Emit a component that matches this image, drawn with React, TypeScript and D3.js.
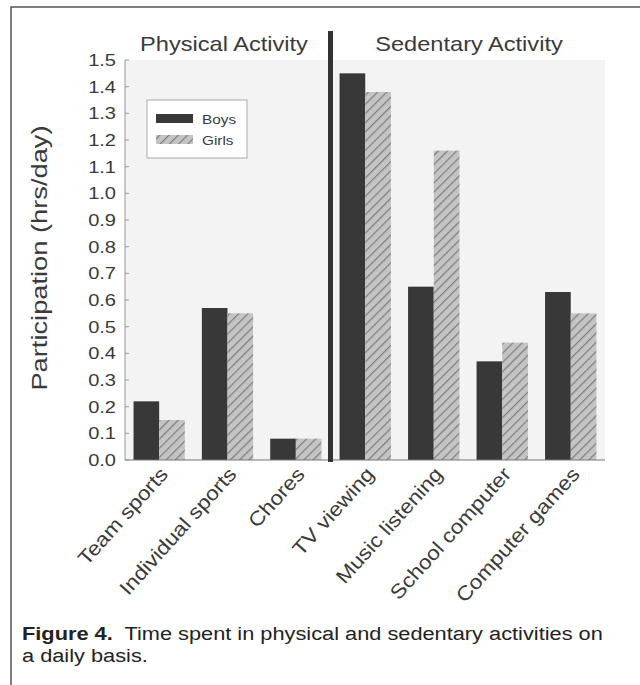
import React from "react";
import * as d3 from "d3";

const physicalCats = ["Team sports", "Individual sports", "Chores"];
const sedentaryCats = ["TV viewing", "Music listening", "School computer", "Computer games"];
const boysPhysical = [0.22, 0.57, 0.08];
const girlsPhysical = [0.15, 0.55, 0.08];
const boysSedentary = [1.45, 0.65, 0.37, 0.63];
const girlsSedentary = [1.38, 1.16, 0.44, 0.55];
const yTicks = [0, 0.1, 0.2, 0.3, 0.4, 0.5, 0.6, 0.7, 0.8, 0.9, 1.0, 1.1, 1.2, 1.3, 1.4, 1.5];
const seriesNames = ["Boys", "Girls"];

const W = 640, H = 685;
const font = "'Liberation Sans', Arial, Helvetica, sans-serif";
const textColor = "#3a3a3a";
const SX = 1.18;

function T({ x, y, rot = 0, sx = SX, size, anchor = "start", dy, weight, fill = textColor, children }: any) {
  return (
    <text
      transform={`translate(${x},${y}) rotate(${rot}) scale(${sx},1)`}
      textAnchor={anchor}
      dy={dy}
      fontSize={size}
      fontFamily={font}
      fontWeight={weight}
      fill={fill}
    >
      {children}
    </text>
  );
}

export default function App() {
  const y = d3.scaleLinear().domain([0, 1.5]).range([460, 60]);
  const xPhys = d3.scaleBand<string>().domain(physicalCats).range([125, 330]).paddingInner(0.25).paddingOuter(0.125);
  const xSed = d3.scaleBand<string>().domain(sedentaryCats).range([331, 605]).paddingInner(0.25).paddingOuter(0.125);

  const groups = [
    { cats: physicalCats, boys: boysPhysical, girls: girlsPhysical, x: xPhys },
    { cats: sedentaryCats, boys: boysSedentary, girls: girlsSedentary, x: xSed },
  ];

  return (
    <svg width={W} height={H} style={{ position: "absolute", left: 0, top: 0, background: "#fff" }}>
      <defs>
        <pattern id="hatch" patternUnits="userSpaceOnUse" width={6.5} height={6.5} patternTransform="rotate(45)">
          <rect width={6.5} height={6.5} fill="#c4c4c4" />
          <line x1={0.6} y1={0} x2={0.6} y2={6.5} stroke="#7d7d7d" strokeWidth={1.2} />
        </pattern>
      </defs>
      <rect x={11} y={7} width={W} height={H} fill="#fff" stroke="#555" strokeWidth={1.5} />
      {/* plot background */}
      <rect x={125} y={y(1.5)} width={605 - 125} height={y(0) - y(1.5)} fill="#f2f3f2" />
      {/* bars */}
      {groups.map((g, gi) =>
        g.cats.map((c, i) => {
          const bw = g.x.bandwidth() / 2;
          const x0 = g.x(c)!;
          return (
            <g key={`${gi}-${i}`}>
              <rect x={x0} y={y(g.boys[i])} width={bw} height={y(0) - y(g.boys[i])} fill="#383838" />
              <rect x={x0 + bw} y={y(g.girls[i])} width={bw} height={y(0) - y(g.girls[i])} fill="url(#hatch)" />
            </g>
          );
        })
      )}
      {/* y axis */}
      <line x1={125} x2={125} y1={y(1.5)} y2={y(0)} stroke="#999" strokeWidth={1} />
      <line x1={125} x2={605} y1={y(0)} y2={y(0)} stroke="#777" strokeWidth={1.2} />
      {yTicks.map((t) => (
        <g key={t}>
          <line x1={125} x2={129} y1={y(t)} y2={y(t)} stroke="#999" />
          <T x={116} y={y(t)} dy="0.36em" anchor="end" size={17}>{t.toFixed(1)}</T>
        </g>
      ))}
      <T x={47} y={258} rot={-90} sx={1.24} anchor="middle" size={22}>Participation (hrs/day)</T>
      {/* divider */}
      <line x1={330.5} x2={330.5} y1={31} y2={462} stroke="#333" strokeWidth={5} />
      {/* section titles */}
      <T x={224} y={51} anchor="middle" size={20}>Physical Activity</T>
      <T x={469} y={51} anchor="middle" size={20}>Sedentary Activity</T>
      {/* x labels */}
      {groups.map((g, gi) =>
        g.cats.map((c) => {
          const cx = g.x(c)! + g.x.bandwidth() / 2;
          return (
            <T key={`${gi}-${c}`} x={cx + 10} y={475} rot={-48} sx={1.13} anchor="end" size={20}>{c}</T>
          );
        })
      )}
      {/* legend */}
      <rect x={147} y={100} width={100} height={58} fill="#fff" stroke="#aaa" strokeWidth={1} />
      {seriesNames.map((s, i) => (
        <g key={s}>
          <rect x={156} y={114 + i * 21} width={37} height={9} fill={i === 0 ? "#383838" : "url(#hatch)"} />
          <T x={202} y={119 + i * 21} dy="0.36em" size={13}>{s}</T>
        </g>
      ))}
      {/* caption */}
      <text transform={`translate(22,640) scale(1.21,1)`} fontSize={18} fontFamily={font} fill="#222">
        <tspan fontWeight="bold">Figure 4.</tspan>
        <tspan>{"\u00a0 Time spent in physical and sedentary activities on"}</tspan>
      </text>
      <T x={22} y={662} sx={1.21} size={18} fill="#222">a daily basis.</T>
    </svg>
  );
}
